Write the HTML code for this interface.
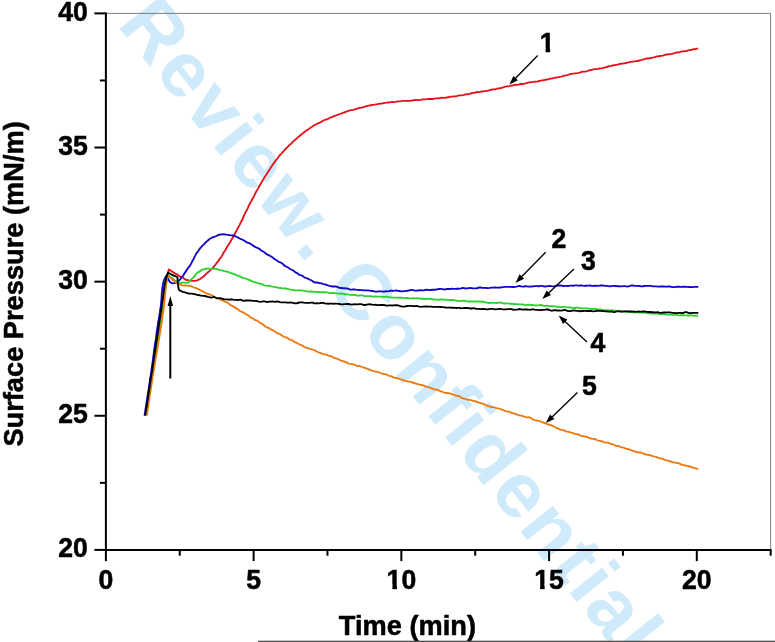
<!DOCTYPE html>
<html lang="en">
<head>
<meta charset="utf-8">
<title>Surface Pressure vs Time</title>
<style>
html,body{margin:0;padding:0;background:#fff;}
body{width:775px;height:642px;overflow:hidden;}
svg{display:block;}
text{font-family:'Liberation Sans', Arial, Helvetica, sans-serif;}
.b{font-weight:bold;fill:#000;}
.wm{fill:#cfeafa;font-kerning:none;}
.c{fill:none;stroke-width:1.85;stroke-linejoin:round;stroke-linecap:butt;}
</style>
</head>
<body>
<svg width="775" height="642" viewBox="0 0 775 642">
<rect width="775" height="642" fill="#fff"/>
<defs>
<clipPath id="one" clipPathUnits="userSpaceOnUse"><rect x="-2" y="-26" width="22" height="21.7"/><rect x="5.9" y="-4.5" width="4.55" height="5.5"/></clipPath>
<clipPath id="one2" clipPathUnits="userSpaceOnUse"><rect x="-18" y="-26" width="18" height="21.7"/><rect x="-9.1" y="-4.5" width="4.55" height="5.5"/><rect x="0" y="-26" width="22" height="32"/></clipPath>
</defs>
<text class="wm" font-size="78" font-weight="bold" letter-spacing="2.7" stroke="#cfeafa" stroke-width="0" stroke-linejoin="miter" transform="translate(116.5 24.7) rotate(51.44)" x="0" y="0">Review. Confidential</text>
<path d="M105.9 13.4H770.6V549.9" fill="none" stroke="#7f7f7f" stroke-width="1"/>
<path class="c" stroke="#e5101a" d="M145.5 415.5L145.7 414.0L146.0 412.5L146.2 411.1L146.5 409.7L146.7 408.1L147.0 406.6L147.2 405.1L147.5 403.5L147.7 402.0L148.0 400.6L148.2 399.2L148.5 397.7L148.7 396.0L149.0 394.5L149.2 393.1L149.5 391.6L149.7 390.3L150.0 389.0L150.2 387.3L150.5 385.2L150.7 383.7L150.9 382.5L151.2 381.2L151.4 379.8L151.7 378.5L151.9 377.1L152.2 375.3L152.4 373.8L152.6 372.7L152.9 371.2L153.1 369.5L153.4 367.7L153.6 366.1L153.8 364.8L154.1 363.3L154.3 361.7L154.5 360.2L154.8 358.8L155.0 357.3L155.3 355.9L155.5 354.5L155.7 352.9L155.9 351.4L156.2 350.1L156.4 348.7L156.6 347.1L156.9 345.5L157.1 344.0L157.3 342.6L157.5 341.0L157.8 339.5L158.0 338.1L158.2 336.5L158.4 334.8L158.7 333.4L158.9 332.1L159.1 330.6L159.3 328.9L159.5 327.4L159.7 326.0L160.0 324.6L160.2 323.2L160.4 321.6L160.6 319.9L160.8 318.6L161.0 317.3L161.3 315.6L161.5 314.1L161.7 312.7L161.9 311.3L162.1 309.8L162.3 308.1L162.5 306.4L162.8 305.0L163.0 303.7L163.2 302.3L163.4 300.7L163.6 298.9L163.8 297.5L164.0 296.3L164.3 294.9L164.5 293.2L164.7 291.7L164.9 290.4L165.2 289.0L165.4 287.5L165.7 285.9L165.9 284.3L166.2 282.9L166.4 281.3L166.7 279.6L167.0 278.2L167.3 276.8L167.6 275.2L167.9 273.8L168.2 272.5L168.5 271.0L168.8 269.5L170.1 270.3L171.3 271.1L172.6 271.9L173.9 272.6L175.1 273.4L176.4 274.2L177.8 274.9L179.1 275.8L180.4 276.6L181.7 276.8L183.0 277.4L184.3 278.8L185.6 279.8L187.0 279.9L188.4 280.3L189.9 280.8L191.4 280.9L192.9 280.9L194.4 280.8L195.8 280.7L197.3 280.3L198.7 279.7L200.1 279.0L201.3 278.1L202.5 277.2L203.7 276.2L204.8 275.2L205.8 274.1L206.9 273.1L208.0 272.4L209.1 271.4L210.2 270.3L211.3 269.2L212.4 268.1L213.4 267.0L214.4 266.0L215.4 264.7L216.3 263.5L217.2 262.4L218.2 261.1L219.1 259.7L219.9 258.5L220.8 257.6L221.6 256.4L222.4 255.0L223.2 253.5L223.9 252.1L224.7 251.1L225.4 250.0L226.2 248.5L226.9 247.2L227.7 246.0L228.5 244.9L229.2 243.7L230.0 242.5L230.8 241.0L231.6 239.5L232.4 238.2L233.1 237.0L233.9 235.7L234.6 234.4L235.3 232.9L236.0 231.5L236.7 230.4L237.4 229.0L238.1 227.6L238.8 226.5L239.4 225.4L240.1 223.9L240.8 222.3L241.4 221.1L242.1 220.1L242.7 218.6L243.4 216.8L244.0 215.4L244.7 214.1L245.4 212.7L246.0 211.4L246.7 210.3L247.3 209.1L248.0 207.6L248.7 205.8L249.4 204.5L250.0 203.3L250.7 202.2L251.4 201.0L252.1 199.5L252.8 198.2L253.5 197.2L254.2 195.9L254.9 194.2L255.6 192.8L256.3 191.5L257.1 190.1L257.8 188.9L258.5 187.8L259.3 186.3L260.0 185.0L260.8 183.8L261.5 182.4L262.3 181.0L263.1 179.8L263.9 178.4L264.6 177.1L265.4 175.9L266.2 174.7L267.0 173.4L267.8 172.2L268.6 171.0L269.5 169.8L270.3 168.4L271.1 167.1L272.0 165.8L272.8 164.5L273.7 163.3L274.6 162.2L275.4 160.9L276.3 159.7L277.3 158.7L278.2 157.6L279.1 156.1L280.1 154.9L281.1 154.0L282.1 152.9L283.1 151.7L284.1 150.7L285.1 149.5L286.2 148.3L287.2 147.4L288.3 146.4L289.4 145.2L290.4 144.2L291.5 143.4L292.6 142.1L293.7 140.9L294.8 140.1L295.9 139.2L297.0 138.1L298.1 137.1L299.3 136.2L300.4 135.2L301.6 134.2L302.8 133.4L304.0 132.3L305.2 131.4L306.4 130.6L307.6 129.8L308.9 128.9L310.1 128.0L311.4 127.2L312.7 126.2L313.9 125.4L315.2 124.8L316.6 124.0L317.9 123.4L319.2 122.9L320.5 122.2L321.9 121.4L323.2 120.7L324.6 120.0L326.0 119.5L327.4 119.3L328.7 118.5L330.1 117.7L331.5 117.4L332.9 116.6L334.3 115.9L335.7 115.6L337.1 115.2L338.5 114.5L339.9 114.0L341.3 113.5L342.7 112.9L344.1 112.5L345.6 112.0L347.0 111.3L348.4 110.8L349.8 110.4L351.3 110.1L352.7 109.9L354.2 109.6L355.6 109.1L357.1 108.7L358.5 108.2L360.0 107.8L361.4 107.7L362.9 107.4L364.3 106.8L365.8 106.3L367.3 105.9L368.7 105.6L370.2 105.3L371.7 105.0L373.1 104.9L374.6 104.7L376.1 104.4L377.6 104.1L379.0 103.9L380.5 103.7L382.0 103.5L383.5 103.1L385.0 102.8L386.5 102.7L388.0 102.5L389.5 102.3L391.0 102.1L392.4 102.0L393.9 102.1L395.4 101.9L396.9 101.6L398.4 101.4L399.9 101.3L401.4 101.2L402.9 100.9L404.4 100.8L405.9 100.8L407.4 100.8L408.9 100.9L410.4 100.8L411.9 100.5L413.4 100.3L414.9 100.0L416.4 100.1L417.8 100.0L419.3 100.1L420.8 99.9L422.3 99.4L423.8 99.3L425.3 99.3L426.8 99.2L428.3 99.0L429.8 98.9L431.3 99.0L432.8 99.0L434.3 98.7L435.8 98.4L437.3 98.3L438.8 98.4L440.3 98.0L441.8 97.7L443.3 97.8L444.7 97.8L446.2 97.5L447.7 97.3L449.2 97.0L450.7 96.7L452.2 96.6L453.7 96.4L455.2 96.3L456.6 96.1L458.1 95.7L459.6 95.4L461.1 95.3L462.6 95.2L464.0 94.8L465.5 94.3L467.0 94.2L468.4 94.2L469.9 93.8L471.4 93.1L472.9 92.9L474.3 92.8L475.8 92.3L477.3 92.0L478.8 92.1L480.3 91.9L481.7 91.5L483.2 91.3L484.7 91.2L486.2 91.0L487.7 90.7L489.1 90.3L490.6 89.8L492.1 89.5L493.5 89.4L495.0 89.3L496.5 88.9L498.0 88.4L499.4 88.3L500.9 88.0L502.4 87.6L503.8 87.2L505.3 86.7L506.8 86.4L508.2 86.3L509.7 86.1L511.2 85.7L512.7 85.5L514.1 85.0L515.6 84.7L517.1 84.8L518.6 84.6L520.1 84.2L521.5 84.0L523.0 84.0L524.5 83.7L526.0 83.4L527.5 82.8L528.9 82.4L530.4 82.4L531.9 82.1L533.4 81.8L534.9 81.6L536.3 81.6L537.8 81.4L539.3 81.0L540.8 80.7L542.2 80.4L543.7 80.1L545.2 79.8L546.6 79.5L548.1 79.3L549.6 78.9L551.0 78.6L552.5 78.3L554.0 77.9L555.4 77.6L556.9 77.5L558.4 77.2L559.8 76.8L561.3 76.6L562.8 76.2L564.2 75.6L565.7 75.3L567.2 75.1L568.6 74.7L570.1 74.2L571.6 73.8L573.0 73.6L574.5 73.4L576.0 73.4L577.4 73.2L578.9 72.8L580.4 72.3L581.8 71.9L583.3 71.7L584.8 71.6L586.3 71.5L587.7 71.0L589.2 70.4L590.7 70.0L592.1 69.7L593.6 69.3L595.1 69.1L596.5 69.1L598.0 68.9L599.5 68.5L600.9 68.3L602.4 68.1L603.9 67.7L605.4 67.4L606.8 67.0L608.3 66.5L609.8 66.2L611.2 65.9L612.7 65.5L614.2 65.2L615.6 65.0L617.1 64.7L618.6 64.3L620.1 63.9L621.5 63.6L623.0 63.5L624.5 63.3L625.9 63.0L627.4 62.7L628.9 62.4L630.4 61.9L631.8 61.7L633.3 61.6L634.8 61.4L636.2 61.2L637.7 61.0L639.2 60.5L640.6 60.2L642.1 59.9L643.6 59.4L645.1 58.8L646.5 58.5L648.0 58.5L649.5 58.4L650.9 58.0L652.4 57.6L653.9 57.3L655.4 56.9L656.8 56.4L658.3 56.3L659.8 56.0L661.2 55.8L662.7 55.7L664.2 55.1L665.7 54.6L667.1 54.5L668.6 54.4L670.1 54.1L671.5 53.9L673.0 53.6L674.5 53.2L675.9 52.6L677.4 52.5L678.9 52.4L680.4 51.9L681.8 51.4L683.3 51.4L684.8 51.2L686.2 51.0L687.7 50.6L689.2 50.2L690.7 50.0L692.1 49.6L693.6 49.2L695.1 49.2L696.5 48.8L698.0 48.4"/>
<path class="c" stroke="#1005c8" d="M144.5 415.5L144.7 414.1L145.0 412.6L145.2 411.2L145.4 409.6L145.7 408.1L145.9 406.7L146.1 405.1L146.4 403.4L146.6 402.0L146.8 400.6L147.1 399.2L147.3 397.7L147.5 396.1L147.7 394.6L148.0 393.1L148.2 391.8L148.4 390.4L148.7 388.9L148.9 387.3L149.1 385.7L149.3 384.6L149.6 383.1L149.8 381.0L150.0 379.1L150.2 377.9L150.4 376.9L150.7 375.6L150.9 374.2L151.1 372.7L151.3 371.0L151.5 369.5L151.7 368.0L151.9 366.5L152.2 364.7L152.4 363.3L152.6 362.1L152.8 360.8L153.0 358.9L153.2 357.1L153.4 355.8L153.6 354.6L153.8 353.2L154.0 351.5L154.2 349.9L154.4 348.7L154.6 347.2L154.8 345.4L155.0 344.0L155.2 342.8L155.4 341.3L155.7 340.0L155.9 338.7L156.1 336.8L156.3 335.0L156.5 333.5L156.7 332.1L156.9 330.6L157.2 329.1L157.4 327.7L157.6 326.2L157.9 324.4L158.1 322.5L158.3 321.2L158.6 320.3L158.8 319.1L159.0 317.6L159.3 315.9L159.5 314.2L159.8 312.9L160.0 311.3L160.2 309.5L160.4 308.3L160.7 307.2L160.8 305.7L161.0 304.0L161.2 302.3L161.3 300.8L161.4 299.5L161.6 297.8L161.6 296.1L161.7 294.6L161.8 293.1L161.9 291.8L162.1 290.4L162.2 288.8L162.4 287.4L162.7 285.8L163.0 284.1L163.3 282.6L163.7 281.3L164.2 279.9L164.8 278.5L165.4 277.2L166.1 275.9L167.0 277.1L167.9 278.3L168.6 279.7L169.3 281.1L170.1 282.1L171.3 282.9L172.8 283.3L174.4 283.1L175.7 282.4L177.0 282.0L178.3 281.2L179.5 280.0L180.6 278.8L181.5 277.7L182.3 276.5L183.2 275.5L184.0 274.2L184.9 272.7L185.8 271.4L186.7 270.1L187.5 268.8L188.4 267.7L189.2 266.7L190.0 265.7L190.7 264.4L191.5 262.8L192.2 261.4L192.8 260.3L193.5 259.2L194.2 257.7L195.0 256.1L195.7 254.6L196.5 253.3L197.4 252.2L198.2 251.1L199.1 249.7L200.0 248.4L200.9 247.3L201.8 246.3L202.8 245.4L203.9 244.3L205.0 243.1L206.1 241.9L207.3 241.0L208.4 240.0L209.6 239.0L210.8 238.3L212.1 237.6L213.5 237.0L214.8 236.6L216.3 236.0L217.7 235.3L219.2 234.7L220.7 234.5L222.2 234.4L223.7 234.2L225.2 234.5L226.7 234.7L228.2 234.8L229.7 235.2L231.2 235.4L232.6 235.5L234.1 235.7L235.5 236.4L236.9 237.0L238.2 237.6L239.6 238.5L240.9 239.1L242.2 239.5L243.5 240.2L244.8 241.1L246.2 242.1L247.5 242.7L248.9 243.0L250.2 243.6L251.5 244.5L252.9 245.4L254.2 246.4L255.5 247.1L256.8 247.7L258.0 248.2L259.3 248.8L260.6 249.9L261.9 250.9L263.1 251.5L264.4 252.2L265.7 253.4L267.0 254.4L268.2 254.9L269.5 255.5L270.7 256.4L272.0 257.0L273.2 257.9L274.5 258.9L275.7 259.7L277.0 260.6L278.2 261.6L279.5 262.2L280.7 262.5L282.0 263.2L283.3 264.5L284.6 265.7L285.8 266.4L287.1 267.0L288.4 267.8L289.7 268.7L291.0 269.5L292.3 270.0L293.6 270.8L294.8 271.9L296.1 272.7L297.4 273.3L298.7 274.4L300.0 275.1L301.3 275.3L302.6 275.9L303.9 277.0L305.2 277.8L306.6 278.1L307.9 278.6L309.3 279.5L310.7 280.0L312.1 280.8L313.5 281.9L314.9 282.5L316.4 282.5L317.8 282.7L319.2 283.0L320.6 283.2L322.1 283.7L323.5 284.1L325.0 284.3L326.4 284.8L327.9 285.4L329.4 285.9L330.8 286.2L332.3 286.5L333.8 286.5L335.3 286.4L336.8 286.7L338.2 287.3L339.7 287.8L341.2 288.0L342.7 288.2L344.2 288.2L345.7 288.3L347.1 288.5L348.6 288.9L350.1 289.6L351.6 289.7L353.1 289.4L354.6 289.5L356.1 289.7L357.6 289.8L359.1 290.0L360.6 290.1L362.1 290.2L363.6 290.3L365.1 290.4L366.6 290.3L368.1 290.4L369.6 290.6L371.1 290.8L372.6 291.0L374.1 291.3L375.6 291.6L377.1 291.6L378.6 291.4L380.1 291.4L381.6 291.4L383.1 291.6L384.6 291.5L386.1 291.2L387.6 291.4L389.1 291.2L390.6 290.7L392.1 290.7L393.6 290.8L395.1 290.6L396.6 290.5L398.1 290.8L399.6 291.0L401.1 291.3L402.6 291.3L404.1 291.1L405.6 290.9L407.1 290.8L408.6 290.5L410.1 290.1L411.6 289.9L413.1 290.1L414.6 290.6L416.1 290.7L417.6 290.6L419.1 290.2L420.6 290.2L422.1 290.4L423.6 290.4L425.1 290.0L426.6 289.7L428.1 289.8L429.6 290.0L431.1 290.0L432.6 289.7L434.1 289.7L435.6 289.7L437.1 289.3L438.6 289.0L440.1 288.8L441.6 288.9L443.1 289.4L444.6 289.5L446.1 289.1L447.6 289.0L449.1 289.0L450.6 288.8L452.1 288.7L453.6 288.8L455.1 288.9L456.6 288.7L458.1 288.7L459.6 288.7L461.1 288.4L462.6 288.0L464.1 288.2L465.6 288.5L467.1 288.4L468.6 288.2L470.1 288.0L471.6 288.1L473.1 288.3L474.6 288.3L476.1 288.4L477.6 288.0L479.1 287.5L480.6 287.5L482.1 287.8L483.6 287.9L485.1 287.9L486.6 288.0L488.1 288.1L489.6 287.9L491.1 287.6L492.6 287.6L494.1 287.5L495.6 287.3L497.1 287.6L498.6 287.7L500.1 287.5L501.6 287.3L503.1 287.1L504.6 286.9L506.1 286.9L507.6 286.9L509.1 286.9L510.6 286.9L512.1 287.0L513.6 287.0L515.1 286.8L516.6 286.6L518.1 286.2L519.6 286.0L521.1 286.4L522.6 286.6L524.1 286.5L525.6 286.2L527.1 286.3L528.6 286.6L530.1 286.7L531.6 286.5L533.1 286.3L534.6 286.1L536.1 286.1L537.6 286.2L539.1 286.2L540.6 285.9L542.1 285.9L543.6 286.3L545.1 286.5L546.6 286.3L548.1 286.1L549.7 286.0L551.2 286.2L552.7 286.3L554.2 286.3L555.7 286.0L557.2 285.6L558.7 285.5L560.2 285.4L561.7 285.6L563.2 286.0L564.7 285.9L566.2 285.8L567.7 286.0L569.2 285.9L570.7 285.6L572.2 285.7L573.7 285.7L575.2 285.4L576.7 285.3L578.2 285.6L579.7 285.5L581.2 285.3L582.7 285.7L584.2 285.9L585.7 285.7L587.2 285.7L588.7 285.6L590.2 285.5L591.7 285.8L593.2 285.9L594.7 285.7L596.2 285.7L597.7 285.8L599.2 285.7L600.7 285.5L602.2 285.4L603.7 285.6L605.2 285.8L606.7 285.9L608.2 286.1L609.7 286.4L611.2 286.1L612.7 285.9L614.2 285.9L615.7 286.0L617.2 286.2L618.7 286.2L620.2 286.4L621.7 286.3L623.2 286.1L624.7 286.1L626.2 286.3L627.7 286.6L629.2 286.2L630.7 285.7L632.2 285.5L633.7 285.6L635.2 285.8L636.7 285.8L638.2 285.8L639.7 286.0L641.2 286.3L642.7 286.4L644.2 286.0L645.7 285.9L647.2 285.9L648.8 285.8L650.3 285.9L651.8 286.1L653.3 286.4L654.8 286.4L656.3 286.4L657.8 286.6L659.3 286.6L660.8 286.5L662.3 286.5L663.8 286.5L665.3 286.6L666.8 286.7L668.3 286.4L669.8 286.5L671.3 286.8L672.8 287.1L674.3 287.2L675.8 286.9L677.3 286.7L678.8 286.7L680.3 286.8L681.8 286.8L683.3 286.7L684.8 286.7L686.3 286.8L687.8 286.9L689.3 287.0L690.8 287.2L692.3 287.1L693.8 286.9L695.3 286.8L696.8 286.8L698.3 286.9"/>
<path class="c" stroke="#2ed02e" d="M146.0 415.5L146.2 414.0L146.5 412.3L146.7 410.8L146.9 409.7L147.1 408.6L147.4 406.9L147.6 405.0L147.8 403.5L148.0 401.9L148.3 400.4L148.5 399.1L148.7 397.7L148.9 396.3L149.2 394.9L149.4 393.3L149.6 391.9L149.8 390.6L150.1 389.0L150.3 387.2L150.5 385.8L150.7 384.6L151.0 383.2L151.2 381.5L151.4 379.9L151.6 378.5L151.9 376.8L152.1 375.4L152.3 374.1L152.5 372.6L152.8 371.1L153.0 369.4L153.2 367.6L153.4 366.4L153.6 364.8L153.9 363.2L154.1 362.0L154.3 360.7L154.5 359.0L154.8 357.4L155.0 356.0L155.2 354.7L155.4 353.5L155.6 351.9L155.9 350.4L156.1 348.9L156.3 347.2L156.5 345.6L156.8 344.3L157.0 342.9L157.2 341.2L157.4 339.6L157.7 338.0L157.9 336.4L158.1 335.3L158.3 333.8L158.6 332.1L158.8 330.7L159.0 329.3L159.3 327.8L159.5 326.0L159.7 324.7L160.0 323.6L160.2 322.1L160.4 320.2L160.7 318.8L160.9 317.5L161.1 316.1L161.4 314.7L161.6 313.0L161.8 311.5L162.1 310.1L162.3 308.8L162.5 307.2L162.7 305.4L162.9 304.0L163.1 302.9L163.3 301.5L163.5 300.0L163.7 298.5L163.9 296.8L164.1 295.1L164.3 293.5L164.4 292.2L164.6 290.8L164.8 289.1L165.0 287.5L165.2 286.2L165.5 284.9L165.7 283.3L166.0 281.5L166.2 279.9L166.5 278.9L166.8 277.6L167.2 276.0L167.5 274.5L168.7 275.6L169.8 276.7L171.0 277.5L172.1 278.1L173.2 279.0L174.4 280.2L175.7 281.1L177.0 281.8L178.3 282.7L179.8 283.1L181.2 282.8L182.8 282.5L184.3 282.6L185.9 282.7L187.3 282.8L188.6 282.2L189.7 281.0L190.8 279.8L191.9 278.9L192.9 278.0L193.9 276.9L194.9 275.6L196.0 274.2L197.0 273.0L198.2 272.2L199.4 271.6L200.7 270.8L202.1 269.9L203.5 269.3L205.0 269.0L206.5 268.6L208.0 268.5L209.5 268.9L211.0 269.2L212.5 268.9L214.0 268.7L215.5 268.7L216.9 269.0L218.4 269.6L219.9 270.1L221.3 270.3L222.8 270.7L224.2 271.1L225.7 271.3L227.1 271.6L228.6 272.2L230.0 272.8L231.4 273.2L232.8 273.6L234.3 274.1L235.7 274.8L237.1 275.4L238.5 275.9L239.9 276.4L241.3 277.1L242.7 277.8L244.1 278.1L245.5 278.3L246.9 279.0L248.3 279.6L249.7 280.2L251.1 280.9L252.6 281.5L254.0 281.9L255.4 282.4L256.8 282.9L258.2 283.1L259.7 283.5L261.1 284.0L262.6 284.4L264.0 285.1L265.5 285.6L267.0 285.8L268.4 285.8L269.9 285.9L271.4 286.3L272.9 286.6L274.3 286.8L275.8 287.1L277.3 287.6L278.8 287.9L280.2 288.0L281.7 288.2L283.2 288.3L284.7 288.3L286.2 288.5L287.7 288.8L289.2 289.3L290.6 289.7L292.1 289.8L293.6 290.1L295.1 290.4L296.6 290.4L298.1 290.4L299.6 290.4L301.1 290.4L302.6 290.7L304.1 290.8L305.6 291.1L307.1 291.4L308.6 291.6L310.1 291.5L311.6 291.5L313.1 291.7L314.6 291.8L316.1 291.9L317.5 292.0L319.0 292.1L320.5 292.2L322.0 292.2L323.5 292.2L325.0 292.2L326.5 292.4L328.0 292.7L329.5 293.1L331.0 293.2L332.5 292.9L334.0 293.1L335.5 293.3L337.0 293.4L338.5 293.6L340.0 293.6L341.5 293.5L343.0 293.8L344.5 294.2L346.0 294.2L347.5 294.3L349.0 294.7L350.5 294.8L352.0 294.7L353.5 294.8L355.0 295.0L356.5 295.3L358.0 295.6L359.5 295.5L361.0 295.3L362.5 295.4L364.0 295.9L365.5 296.2L367.0 296.1L368.5 296.1L370.0 296.2L371.5 296.4L373.0 296.6L374.5 296.5L376.0 296.5L377.5 296.7L379.0 296.6L380.5 296.7L382.0 296.9L383.5 296.9L385.0 296.8L386.5 296.7L388.0 296.8L389.5 297.2L391.0 297.4L392.5 297.6L394.0 297.6L395.5 297.6L397.0 297.6L398.5 297.7L400.0 297.7L401.5 297.7L403.0 297.9L404.5 298.1L406.0 298.0L407.5 297.9L409.0 298.3L410.5 298.4L412.0 298.3L413.5 298.2L415.0 298.3L416.5 298.4L418.0 298.2L419.5 298.5L421.0 298.7L422.5 298.7L424.0 299.0L425.5 299.0L427.0 298.8L428.5 298.8L430.0 298.7L431.5 299.0L433.0 299.4L434.5 299.5L436.0 299.6L437.5 299.7L439.0 299.7L440.5 299.5L442.0 299.3L443.5 299.5L445.0 299.8L446.5 299.7L448.0 299.8L449.5 300.1L451.0 300.0L452.5 299.9L454.0 300.2L455.5 300.6L457.0 300.7L458.5 301.0L460.0 301.2L461.5 300.9L463.0 300.7L464.5 300.7L466.0 301.1L467.5 301.4L469.0 301.5L470.5 301.5L472.0 301.5L473.5 301.5L475.0 301.6L476.5 301.5L478.0 301.4L479.5 301.5L481.0 301.7L482.5 301.7L484.0 301.9L485.5 302.3L487.0 302.6L488.5 303.0L490.0 302.9L491.5 302.6L493.0 302.8L494.5 302.8L496.0 302.8L497.5 303.0L499.0 302.7L500.4 302.5L501.9 303.0L503.4 303.4L504.9 303.5L506.4 303.4L507.9 303.4L509.4 303.7L510.9 303.7L512.4 303.9L513.9 304.2L515.4 304.1L516.9 304.1L518.4 304.3L519.9 304.3L521.4 304.3L522.9 304.5L524.4 304.9L525.9 305.1L527.4 304.8L528.9 304.7L530.4 304.9L531.9 305.0L533.4 305.1L534.9 305.3L536.4 305.4L537.9 305.3L539.4 305.2L540.9 305.0L542.4 305.4L543.9 305.9L545.4 305.8L546.9 305.6L548.4 305.8L549.9 306.1L551.4 306.2L552.9 306.2L554.4 306.4L555.9 306.7L557.4 306.7L558.9 306.8L560.4 307.1L561.9 307.1L563.4 306.9L564.9 306.9L566.4 307.2L567.9 307.4L569.4 307.5L570.9 307.7L572.4 307.9L573.9 308.0L575.4 308.0L576.9 307.7L578.4 307.6L579.9 308.0L581.4 308.3L582.9 308.4L584.4 308.4L585.9 308.4L587.4 308.4L588.9 308.6L590.4 308.9L591.9 309.0L593.4 308.8L594.9 308.7L596.4 309.1L597.9 309.5L599.4 309.5L600.9 309.5L602.4 309.9L603.9 310.1L605.4 310.1L606.9 310.2L608.4 310.3L609.9 310.4L611.4 310.3L612.9 310.4L614.4 310.7L615.9 310.9L617.4 310.9L618.9 310.7L620.4 311.0L621.8 311.3L623.3 311.3L624.8 311.5L626.3 311.7L627.8 311.7L629.3 311.7L630.8 311.9L632.3 312.3L633.8 312.4L635.3 312.4L636.8 312.4L638.3 312.6L639.8 312.7L641.3 312.5L642.8 312.5L644.3 312.7L645.8 312.8L647.3 313.0L648.8 313.3L650.3 313.4L651.8 313.5L653.3 313.5L654.8 313.6L656.3 313.7L657.8 313.6L659.3 313.8L660.8 314.1L662.3 314.2L663.8 314.1L665.3 314.3L666.8 314.6L668.3 314.6L669.8 314.7L671.3 314.9L672.8 314.7L674.3 314.7L675.8 314.9L677.3 315.2L678.8 315.4L680.3 315.4L681.8 315.2L683.3 315.2L684.8 315.3L686.3 315.4L687.8 315.5L689.3 315.5L690.8 315.3L692.3 315.4L693.8 315.6L695.3 315.8L696.8 315.7L698.3 315.6"/>
<path class="c" stroke="#ea7a10" d="M146.8 415.5L147.0 414.0L147.2 412.4L147.5 410.9L147.7 409.8L147.9 408.5L148.1 406.7L148.4 404.8L148.6 403.5L148.8 402.4L149.1 400.7L149.3 398.8L149.5 397.4L149.7 395.9L150.0 394.4L150.2 393.0L150.4 391.6L150.6 390.3L150.9 388.8L151.1 387.2L151.3 385.9L151.6 384.4L151.8 382.6L152.0 381.0L152.3 379.6L152.5 378.1L152.7 376.6L153.0 375.3L153.2 373.9L153.4 372.3L153.7 370.7L153.9 369.2L154.2 367.6L154.4 366.2L154.7 364.8L154.9 363.5L155.1 362.3L155.4 360.7L155.6 358.8L155.9 357.4L156.1 356.0L156.4 354.6L156.6 353.0L156.9 351.3L157.1 350.0L157.4 348.8L157.6 347.3L157.9 345.7L158.1 344.2L158.4 342.6L158.6 341.1L158.9 339.8L159.1 338.7L159.3 337.4L159.6 336.0L159.8 334.4L160.1 332.8L160.3 331.2L160.5 329.4L160.8 328.1L161.0 326.8L161.2 325.1L161.5 323.6L161.7 322.1L161.9 320.7L162.1 319.1L162.3 317.6L162.6 316.2L162.8 314.6L163.0 313.1L163.2 311.6L163.4 309.9L163.6 308.2L163.8 306.9L163.9 305.7L164.1 304.1L164.3 302.4L164.5 300.9L164.6 299.6L164.8 297.9L164.9 296.4L165.1 295.1L165.2 293.5L165.4 292.1L165.5 290.7L165.7 289.2L165.9 287.9L166.0 286.5L166.2 284.7L166.4 282.8L166.6 281.3L166.9 280.1L167.1 278.8L167.3 277.4L167.6 275.9L169.0 276.6L170.2 277.4L171.3 278.3L172.4 279.5L173.5 280.5L174.6 281.4L175.8 282.2L177.0 283.1L178.3 284.0L179.7 284.7L181.2 284.9L182.7 285.3L184.2 285.6L185.7 285.4L187.2 285.6L188.7 285.8L190.1 285.9L191.6 286.4L193.0 287.0L194.5 287.6L195.9 288.0L197.3 288.6L198.7 289.4L200.0 290.0L201.4 290.7L202.7 291.4L204.1 292.2L205.4 293.0L206.8 293.5L208.1 293.9L209.5 294.5L210.8 294.9L212.2 295.5L213.6 296.4L215.0 297.2L216.4 297.8L217.7 298.0L219.1 298.5L220.5 299.6L221.8 300.2L223.1 300.6L224.5 301.5L225.8 302.0L227.1 302.4L228.4 303.2L229.6 304.4L230.9 305.3L232.2 305.9L233.5 306.6L234.8 307.4L236.0 308.1L237.3 308.9L238.6 309.9L239.9 311.0L241.2 311.6L242.5 312.0L243.8 312.7L245.0 313.6L246.3 314.3L247.6 314.9L248.9 315.8L250.2 317.2L251.5 317.9L252.8 318.4L254.0 319.4L255.3 320.1L256.6 320.3L257.9 321.1L259.2 322.2L260.5 323.1L261.8 323.8L263.0 324.5L264.3 325.5L265.6 326.7L266.9 327.5L268.2 327.7L269.5 328.4L270.8 329.5L272.1 329.9L273.4 330.4L274.7 331.4L276.0 332.3L277.4 333.1L278.7 333.7L280.0 334.2L281.3 335.0L282.6 336.0L284.0 336.8L285.3 337.2L286.6 337.5L287.9 338.3L289.3 339.4L290.6 339.8L291.9 340.1L293.3 341.0L294.6 342.0L296.0 342.7L297.3 343.2L298.7 344.0L300.1 344.7L301.4 345.0L302.8 345.8L304.2 346.8L305.6 347.5L307.0 347.8L308.4 348.3L309.8 348.8L311.2 349.2L312.6 349.5L314.0 350.0L315.4 350.6L316.8 351.5L318.2 352.3L319.6 352.7L321.0 353.2L322.4 353.8L323.8 354.2L325.2 354.5L326.6 354.7L328.0 355.4L329.4 356.0L330.8 356.1L332.2 356.8L333.6 357.7L335.0 358.1L336.4 358.4L337.8 359.0L339.2 359.7L340.6 360.4L342.1 361.0L343.5 361.3L344.9 361.7L346.3 362.4L347.7 363.1L349.1 363.6L350.6 363.9L352.0 364.1L353.4 364.3L354.9 364.9L356.3 365.6L357.7 366.0L359.2 366.0L360.6 366.4L362.1 367.0L363.5 367.5L365.0 367.9L366.4 368.4L367.8 369.0L369.3 369.5L370.7 370.1L372.1 370.6L373.6 371.1L375.0 371.4L376.4 371.6L377.9 372.0L379.3 372.5L380.7 373.0L382.2 373.6L383.6 374.1L385.0 374.1L386.4 374.5L387.9 375.3L389.3 375.9L390.7 376.2L392.2 376.6L393.6 377.4L395.0 377.9L396.5 378.0L397.9 378.4L399.3 378.9L400.8 379.3L402.2 379.6L403.6 380.1L405.1 380.8L406.5 381.2L408.0 381.5L409.4 381.6L410.9 381.8L412.3 382.5L413.8 383.0L415.2 383.4L416.6 383.8L418.1 384.2L419.5 384.7L421.0 385.0L422.4 385.2L423.9 385.7L425.3 386.4L426.7 386.9L428.2 387.1L429.6 387.4L431.0 388.1L432.5 388.6L433.9 389.1L435.4 389.5L436.8 389.7L438.2 390.2L439.7 390.9L441.1 391.4L442.5 391.8L444.0 392.5L445.4 393.0L446.8 393.0L448.3 393.1L449.7 393.4L451.1 393.9L452.6 394.4L454.0 394.8L455.5 395.3L456.9 395.8L458.3 395.9L459.8 396.6L461.2 397.7L462.6 398.3L464.1 398.5L465.5 399.0L467.0 399.5L468.4 399.8L469.8 399.9L471.3 400.1L472.7 400.6L474.2 401.0L475.6 401.4L477.0 401.9L478.5 402.4L479.9 403.0L481.3 403.4L482.8 403.7L484.2 404.3L485.6 405.1L487.1 405.6L488.5 406.1L489.9 406.6L491.3 407.1L492.8 407.2L494.2 407.3L495.6 407.8L497.1 408.2L498.5 408.5L499.9 409.0L501.4 409.4L502.8 409.8L504.2 410.6L505.7 411.1L507.1 411.4L508.5 411.7L510.0 412.2L511.4 412.8L512.8 413.2L514.3 413.7L515.7 414.2L517.2 414.7L518.6 415.2L520.1 415.5L521.5 415.7L522.9 416.1L524.4 416.7L525.8 417.1L527.3 417.3L528.7 417.2L530.2 417.6L531.6 418.6L533.0 419.5L534.5 420.1L535.9 420.4L537.3 420.7L538.8 420.9L540.2 421.3L541.6 421.9L543.0 422.5L544.5 423.0L545.9 423.6L547.3 424.1L548.7 424.7L550.1 425.0L551.5 425.4L552.9 425.9L554.3 426.7L555.7 427.5L557.1 428.1L558.5 428.7L559.9 429.3L561.3 429.8L562.7 430.1L564.1 430.4L565.5 431.1L566.9 431.7L568.4 431.9L569.8 432.1L571.2 432.6L572.7 433.0L574.1 433.5L575.6 434.1L577.0 434.2L578.5 434.5L579.9 435.4L581.4 435.9L582.9 436.1L584.3 436.4L585.8 436.6L587.2 437.0L588.7 437.7L590.1 438.2L591.5 438.6L593.0 438.8L594.4 439.0L595.9 439.5L597.3 440.3L598.8 440.7L600.2 440.8L601.6 441.2L603.1 441.9L604.5 442.4L606.0 442.6L607.4 442.7L608.8 443.1L610.3 443.7L611.7 444.0L613.1 444.5L614.6 445.2L616.0 445.8L617.5 446.0L618.9 446.2L620.3 446.8L621.8 447.4L623.2 447.5L624.6 448.1L626.1 448.6L627.5 449.0L629.0 449.4L630.4 449.9L631.9 450.5L633.3 450.9L634.7 451.3L636.2 452.0L637.6 452.4L639.1 452.5L640.5 452.5L642.0 452.9L643.4 453.7L644.9 454.2L646.3 454.5L647.7 454.8L649.2 455.0L650.6 455.4L652.1 455.8L653.5 456.3L655.0 456.7L656.4 457.0L657.9 457.7L659.3 458.3L660.7 458.3L662.2 458.7L663.6 459.4L665.1 459.8L666.5 460.4L668.0 460.7L669.4 461.0L670.9 461.5L672.3 462.2L673.7 462.5L675.2 462.7L676.6 462.9L678.1 463.0L679.5 463.6L681.0 464.5L682.4 464.9L683.9 465.2L685.3 465.5L686.7 465.8L688.2 466.1L689.6 466.5L691.1 467.0L692.5 467.3L694.0 467.8L695.4 468.3L696.9 468.7L698.3 469.1"/>
<path class="c" stroke="#000" d="M145.2 415.5L145.4 413.9L145.7 412.4L145.9 410.8L146.1 409.2L146.4 407.9L146.6 406.8L146.8 405.5L147.0 403.9L147.3 402.1L147.5 400.6L147.7 399.2L148.0 397.5L148.2 396.1L148.4 394.6L148.7 392.8L148.9 391.3L149.1 389.9L149.3 388.6L149.6 387.4L149.8 385.8L150.0 383.9L150.3 382.3L150.5 381.1L150.7 379.5L150.9 377.7L151.2 376.4L151.4 375.0L151.6 373.5L151.9 372.3L152.1 371.0L152.3 369.6L152.5 368.0L152.8 366.0L153.0 364.4L153.2 363.2L153.4 362.0L153.7 360.5L153.9 358.6L154.1 357.0L154.3 355.5L154.6 354.0L154.8 352.7L155.0 351.5L155.2 350.3L155.4 348.4L155.7 346.8L155.9 345.3L156.1 343.6L156.3 342.2L156.6 340.9L156.8 339.4L157.0 337.8L157.2 336.5L157.5 335.0L157.7 333.5L157.9 332.2L158.1 330.8L158.4 329.3L158.6 327.6L158.8 326.0L159.0 324.4L159.3 322.9L159.5 321.5L159.7 319.8L159.9 318.3L160.2 317.3L160.4 315.6L160.6 313.9L160.8 312.8L161.1 311.3L161.3 309.6L161.5 307.9L161.7 306.2L161.9 304.4L162.1 302.7L162.3 301.6L162.5 300.5L162.7 299.5L162.9 298.1L163.1 296.2L163.3 294.6L163.5 293.0L163.7 291.2L163.9 289.5L164.1 287.9L164.4 286.5L164.6 285.2L164.9 283.8L165.2 282.6L165.5 281.4L165.8 279.9L166.2 278.4L166.6 277.0L167.0 275.4L167.5 273.9L167.9 272.4L169.2 273.3L170.5 274.0L171.8 274.7L173.2 275.3L174.6 275.9L176.0 276.5L177.4 277.0L177.5 278.7L177.6 280.5L177.7 282.2L177.8 283.6L178.0 285.2L178.3 286.8L178.6 288.3L178.9 289.8L180.2 290.6L181.5 291.3L182.8 291.9L184.3 292.2L185.7 292.7L187.2 293.1L188.7 293.5L190.2 293.6L191.7 293.7L193.1 293.9L194.6 294.1L196.1 294.5L197.5 295.0L199.0 295.2L200.5 295.5L202.0 295.7L203.5 295.8L204.9 296.0L206.4 296.4L207.9 296.9L209.4 297.2L210.9 297.6L212.3 297.3L213.8 296.8L215.3 297.5L216.8 298.4L218.3 298.3L219.8 298.2L221.3 298.4L222.8 299.0L224.3 299.3L225.8 299.3L227.3 299.4L228.8 299.7L230.2 299.5L231.7 299.3L233.2 299.6L234.7 299.8L236.2 299.9L237.7 300.1L239.2 299.8L240.7 299.6L242.2 300.4L243.7 300.8L245.2 300.5L246.7 300.5L248.2 300.5L249.7 300.5L251.2 300.7L252.7 300.9L254.2 300.8L255.7 300.8L257.2 301.1L258.7 301.6L260.2 301.9L261.7 301.7L263.2 301.4L264.7 301.4L266.2 301.9L267.7 302.0L269.2 301.7L270.7 301.6L272.2 301.4L273.7 301.6L275.2 301.8L276.7 301.5L278.2 301.5L279.7 302.1L281.2 302.3L282.7 302.3L284.2 302.4L285.7 302.4L287.2 302.7L288.7 302.6L290.2 302.5L291.7 302.6L293.2 302.8L294.7 303.3L296.2 303.4L297.7 303.0L299.2 302.5L300.7 302.3L302.2 302.4L303.7 302.7L305.2 302.8L306.7 302.8L308.2 302.9L309.7 302.9L311.2 302.6L312.7 302.7L314.2 303.3L315.7 303.3L317.2 303.2L318.7 303.3L320.2 303.1L321.7 302.9L323.2 302.9L324.7 303.3L326.2 303.6L327.7 303.7L329.2 303.7L330.7 303.6L332.2 303.7L333.7 303.8L335.2 303.7L336.7 303.6L338.2 303.8L339.7 304.0L341.2 304.3L342.7 304.4L344.2 304.2L345.7 304.1L347.2 304.0L348.7 304.0L350.2 304.3L351.7 304.6L353.2 304.4L354.7 304.2L356.2 304.3L357.7 304.3L359.2 304.2L360.7 304.1L362.2 304.4L363.7 305.0L365.2 305.0L366.7 304.6L368.2 304.3L369.7 304.2L371.2 304.5L372.7 304.7L374.2 304.8L375.7 304.7L377.2 305.1L378.7 305.2L380.2 305.0L381.7 305.0L383.2 305.0L384.7 305.1L386.2 305.5L387.7 305.6L389.2 305.3L390.7 305.4L392.2 305.5L393.7 305.3L395.2 305.2L396.7 305.2L398.2 305.4L399.7 305.8L401.2 306.3L402.7 306.7L404.2 306.6L405.7 306.3L407.2 306.0L408.7 305.9L410.2 305.8L411.7 305.8L413.2 306.2L414.7 306.1L416.2 305.9L417.7 306.2L419.2 306.7L420.7 306.8L422.2 306.6L423.7 306.6L425.2 306.5L426.7 306.5L428.2 306.7L429.7 306.6L431.2 306.6L432.7 306.8L434.2 306.8L435.7 306.8L437.2 306.8L438.7 306.8L440.2 307.0L441.7 307.2L443.2 307.1L444.7 307.4L446.2 307.7L447.7 307.6L449.2 307.6L450.7 307.7L452.2 307.7L453.7 307.7L455.2 307.8L456.7 308.0L458.2 307.9L459.7 307.9L461.2 308.3L462.7 308.2L464.2 308.0L465.7 307.9L467.2 308.0L468.7 308.2L470.2 308.5L471.7 308.5L473.2 308.2L474.7 308.4L476.2 308.8L477.7 308.8L479.2 308.9L480.7 309.1L482.2 309.0L483.7 308.9L485.2 309.1L486.7 309.4L488.2 309.3L489.7 308.9L491.2 308.9L492.7 308.9L494.2 309.2L495.7 309.3L497.2 309.1L498.7 308.8L500.2 308.8L501.7 309.2L503.2 309.3L504.7 309.3L506.2 309.4L507.7 309.2L509.2 309.1L510.7 309.0L512.2 309.3L513.7 309.9L515.2 309.7L516.7 309.6L518.2 309.4L519.7 309.0L521.2 309.3L522.7 309.6L524.2 309.5L525.7 309.5L527.2 309.4L528.7 309.7L530.2 309.8L531.7 309.3L533.2 309.3L534.7 309.7L536.2 309.9L537.7 309.9L539.2 310.1L540.7 310.0L542.2 309.8L543.7 309.8L545.2 309.6L546.7 309.3L548.2 309.5L549.7 310.2L551.2 310.7L552.7 310.6L554.2 310.2L555.7 310.2L557.2 310.5L558.7 310.5L560.2 310.6L561.7 310.6L563.2 310.1L564.7 309.8L566.2 310.3L567.7 311.0L569.2 311.2L570.7 311.0L572.2 310.7L573.7 310.5L575.2 310.6L576.7 310.8L578.2 310.9L579.7 311.2L581.2 311.2L582.7 311.0L584.2 310.8L585.7 310.8L587.2 311.0L588.7 311.0L590.3 310.9L591.8 311.2L593.3 311.4L594.8 311.2L596.3 310.8L597.8 310.8L599.3 310.9L600.8 310.9L602.3 311.0L603.8 311.2L605.3 311.3L606.8 311.3L608.3 311.6L609.8 311.7L611.3 311.4L612.8 311.8L614.3 312.1L615.8 311.7L617.3 311.4L618.8 311.3L620.3 311.5L621.8 311.6L623.3 311.6L624.8 311.4L626.3 311.3L627.8 311.4L629.3 311.5L630.8 311.5L632.3 311.6L633.8 311.5L635.3 311.8L636.8 311.7L638.3 311.5L639.8 311.6L641.3 311.7L642.8 311.5L644.3 311.5L645.8 311.6L647.3 311.8L648.8 312.0L650.3 312.0L651.8 312.2L653.3 312.2L654.8 312.4L656.3 312.4L657.8 312.2L659.3 312.7L660.8 312.9L662.3 312.6L663.8 312.5L665.3 312.5L666.8 312.4L668.3 312.4L669.8 312.4L671.3 312.7L672.8 312.8L674.3 312.9L675.8 313.1L677.3 313.1L678.8 312.8L680.3 312.8L681.8 313.2L683.3 313.0L684.8 312.2L686.3 312.1L687.8 312.6L689.3 313.1L690.8 313.2L692.3 312.9L693.8 312.9L695.3 312.9L696.8 312.8L698.3 312.9"/>
<g stroke="#000" stroke-width="2.0" fill="none">
<line x1="105.9" y1="12.4" x2="105.9" y2="550.9"/>
<line x1="104.9" y1="549.9" x2="771.6" y2="549.9"/>
<line x1="105.90" y1="549.9" x2="105.90" y2="561.1"/>
<line x1="179.76" y1="549.9" x2="179.76" y2="555.7"/>
<line x1="253.63" y1="549.9" x2="253.63" y2="561.1"/>
<line x1="327.49" y1="549.9" x2="327.49" y2="555.7"/>
<line x1="401.35" y1="549.9" x2="401.35" y2="561.1"/>
<line x1="475.21" y1="549.9" x2="475.21" y2="555.7"/>
<line x1="549.08" y1="549.9" x2="549.08" y2="561.1"/>
<line x1="622.94" y1="549.9" x2="622.94" y2="555.7"/>
<line x1="696.80" y1="549.9" x2="696.80" y2="561.1"/>
<line x1="770.66" y1="549.9" x2="770.66" y2="555.7"/>
<line x1="94.4" y1="549.90" x2="105.9" y2="549.90"/>
<line x1="99.9" y1="482.84" x2="105.9" y2="482.84"/>
<line x1="94.4" y1="415.77" x2="105.9" y2="415.77"/>
<line x1="99.9" y1="348.71" x2="105.9" y2="348.71"/>
<line x1="94.4" y1="281.65" x2="105.9" y2="281.65"/>
<line x1="99.9" y1="214.59" x2="105.9" y2="214.59"/>
<line x1="94.4" y1="147.52" x2="105.9" y2="147.52"/>
<line x1="99.9" y1="80.46" x2="105.9" y2="80.46"/>
<line x1="94.4" y1="13.40" x2="105.9" y2="13.40"/>
</g>
<text class="b" font-size="27" text-anchor="middle" stroke="#000" stroke-width="0.55" transform="translate(105.9 588.7) scale(0.985 1.05)">0</text>
<text class="b" font-size="27" text-anchor="middle" stroke="#000" stroke-width="0.55" transform="translate(253.6 588.7) scale(0.985 1.05)">5</text>
<text class="b" font-size="27" text-anchor="middle" stroke="#000" stroke-width="0.55" clip-path="url(#one2)" transform="translate(401.4 588.7) scale(0.985 1.05)">10</text>
<text class="b" font-size="27" text-anchor="middle" stroke="#000" stroke-width="0.55" clip-path="url(#one2)" transform="translate(549.1 588.7) scale(0.985 1.05)">15</text>
<text class="b" font-size="27" text-anchor="middle" stroke="#000" stroke-width="0.55" transform="translate(696.8 588.7) scale(0.985 1.05)">20</text>
<text class="b" font-size="27" text-anchor="end" stroke="#000" stroke-width="0.55" transform="translate(87.9 557.0) scale(0.985 1.05)">20</text>
<text class="b" font-size="27" text-anchor="end" stroke="#000" stroke-width="0.55" transform="translate(87.9 422.9) scale(0.985 1.05)">25</text>
<text class="b" font-size="27" text-anchor="end" stroke="#000" stroke-width="0.55" transform="translate(87.9 288.8) scale(0.985 1.05)">30</text>
<text class="b" font-size="27" text-anchor="end" stroke="#000" stroke-width="0.55" transform="translate(87.9 154.6) scale(0.985 1.05)">35</text>
<text class="b" font-size="27" text-anchor="end" stroke="#000" stroke-width="0.55" transform="translate(87.9 20.5) scale(0.985 1.05)">40</text>
<text class="b" font-size="27.65" text-anchor="start" stroke="#000" stroke-width="0.55" transform="translate(338.8 634.8) scale(0.985 1.0)">Time (min)</text>
<text class="b" font-size="27.65" text-anchor="start" stroke="#000" stroke-width="0.55" transform="translate(22.6 446.6) rotate(-90) scale(0.985 1.0)">Surface Pressure (mN/m)</text>
<text class="b" font-size="27" text-anchor="start" stroke="#000" stroke-width="0.55" clip-path="url(#one)" transform="translate(539.8 52.4) scale(0.985 1.05)">1</text>
<line x1="537.7" y1="55.5" x2="515.0" y2="78.8" stroke="#000" stroke-width="1.35"/><polygon points="509.4,84.5 513.4,75.9 517.9,80.3" fill="#000"/>
<text class="b" font-size="27" text-anchor="start" stroke="#000" stroke-width="0.55" transform="translate(551.5 248.4) scale(0.985 1.05)">2</text>
<line x1="545.6" y1="252.3" x2="521.1" y2="277.2" stroke="#000" stroke-width="1.35"/><polygon points="515.5,282.9 519.6,274.3 524.1,278.7" fill="#000"/>
<text class="b" font-size="27" text-anchor="start" stroke="#000" stroke-width="0.55" transform="translate(581.1 269.7) scale(0.985 1.05)">3</text>
<line x1="574.0" y1="269.1" x2="548.1" y2="293.4" stroke="#000" stroke-width="1.35"/><polygon points="542.3,298.9 546.7,290.4 551.0,295.0" fill="#000"/>
<text class="b" font-size="27" text-anchor="start" stroke="#000" stroke-width="0.55" transform="translate(590.5 352.4) scale(0.985 1.05)">4</text>
<line x1="587.0" y1="342.1" x2="564.5" y2="321.0" stroke="#000" stroke-width="1.35"/><polygon points="558.7,315.5 567.4,319.4 563.1,324.0" fill="#000"/>
<text class="b" font-size="27" text-anchor="start" stroke="#000" stroke-width="0.55" transform="translate(581.9 395.4) scale(0.985 1.05)">5</text>
<line x1="577.4" y1="392.5" x2="551.6" y2="417.4" stroke="#000" stroke-width="1.35"/><polygon points="545.8,423.0 550.1,414.5 554.5,419.0" fill="#000"/>
<line x1="170.3" y1="378.5" x2="170.3" y2="305.0" stroke="#000" stroke-width="2.0"/><polygon points="170.3,296.0 173.1,306.0 167.6,306.0" fill="#000"/>
<rect x="258" y="640.7" width="517" height="1.3" fill="#4d4d4d"/>
</svg>
</body>
</html>
